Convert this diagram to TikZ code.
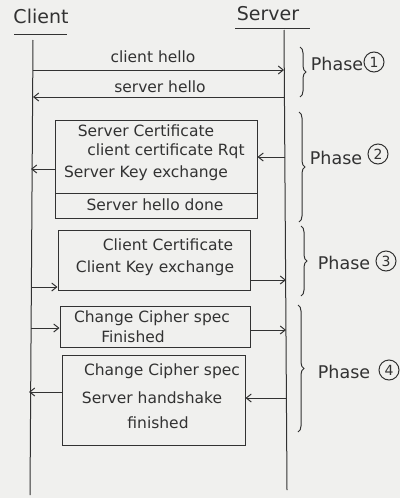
\documentclass[tikz,border=0pt]{standalone}
\usepackage{fontspec}
\setmainfont{DejaVu Sans}
\usetikzlibrary{arrows.meta,decorations.pathreplacing}
\definecolor{bgc}{RGB}{240,240,238}
\definecolor{ink}{RGB}{50,50,50}
\tikzset{
  ink/.style={draw=ink, line width=1pt},
  msg/.style={ink, -{Straight Barb[length=5pt,width=8pt]}},
  lbl/.style={text=ink, font=\fontsize{15.5}{17}\selectfont, inner sep=1pt},
  box/.style={ink, inner sep=0pt},
  brc/.style={ink, decorate, decoration={brace, amplitude=6pt}},
  phase/.style={text=ink, font=\fontsize{17.5}{20}\selectfont, inner sep=1pt},
  num/.style={ink, circle, minimum size=20pt, inner sep=0pt, text=ink, font=\fontsize{14}{16}\selectfont}
}
\begin{document}
\begin{tikzpicture}[x=1pt,y=-1pt]
\fill[bgc] (0,0) rectangle (400,498);
\useasboundingbox (0,0) rectangle (400,498);

% headers
\node[lbl, font=\fontsize{19}{21}\selectfont] (cl) at (41,16) {Client};
\node[lbl, font=\fontsize{19}{21}\selectfont] (sv) at (268,14) {Server};
\draw[ink] (14,34) -- (67,34);
\draw[ink] (235,28) -- (310,28);
\coordinate (clt) at (33,40);
\coordinate (clb) at (30,495);
\coordinate (svt) at (284,30);
\coordinate (svb) at (287,490);
\draw[ink] (clt) -- (clb);
\draw[ink] (svt) -- (svb);

% Phase 1
\node[lbl] (m1) at (153,57) {client hello};
\coordinate (c70) at (33,70);
\coordinate (s70) at (284,70);
\draw[msg] (c70) -- (s70);
\node[lbl] (m2) at (160,87) {server hello};
\coordinate (s97) at (285,97);
\coordinate (c97) at (33,97);
\draw[msg] (s97) -- (c97);
\coordinate (b1t) at (300,47);
\coordinate (b1b) at (300,97);
\draw[brc] (b1t) -- (b1b);
\node[phase] (ph1) at (337,64) {Phase};
\node[num] (n1) at (374,62) {1};

% Phase 2
\node[box, draw, minimum width=202pt, minimum height=73pt] (p2a) at (156,156.5) {};
\node[box, draw, minimum width=202pt, minimum height=25pt] (p2b) at (156,205.5) {};
\node[lbl] (t21) at (146,131) {Server Certificate};
\node[lbl] (t22) at (166,151) {client certificate Rqt};
\node[lbl] (t23) at (146,173) {Server Key exchange};
\node[lbl] (t24) at (155,205) {Server hello done};
\coordinate (s157) at (285,157);
\draw[msg] (s157) -- (p2a.east |- s157);
\coordinate (c169) at (31,169);
\draw[msg] (p2a.west |- c169) -- (c169);
\coordinate (b2t) at (299,112);
\coordinate (b2b) at (299,222);
\draw[brc] (b2t) -- (b2b);
\node[phase] (ph2) at (336,158) {Phase};
\node[num] (n2) at (378,154) {2};

% Phase 3
\node[box, draw, minimum width=192pt, minimum height=60pt] (p3) at (154,260) {};
\node[lbl] (t31) at (168,245) {Client Certificate};
\node[lbl] (t32) at (155,268) {Client Key exchange};
\coordinate (c287) at (31,287);
\draw[msg] (c287) -- (p3.west |- c287);
\coordinate (s280) at (286,280);
\draw[msg] (p3.east |- s280) -- (s280);
\coordinate (b3t) at (301,226);
\coordinate (b3b) at (301,296);
\draw[brc] (b3t) -- (b3b);
\node[phase] (ph3) at (344,263) {Phase};
\node[num] (n3) at (386,261) {3};

% Phase 4
\node[box, draw, minimum width=190pt, minimum height=41pt] (p4a) at (155,326.5) {};
\node[lbl] (t41) at (152,318) {Change Cipher spec};
\node[lbl] (t42) at (133,337) {Finished};
\coordinate (c328) at (31,328);
\draw[msg] (c328) -- (p4a.west |- c328);
\coordinate (s330) at (286,330);
\draw[msg] (p4a.east |- s330) -- (s330);
\node[box, draw, minimum width=183pt, minimum height=90pt] (p4b) at (153.5,400) {};
\node[lbl] (t43) at (162,371) {Change Cipher spec};
\node[lbl] (t44) at (152,398) {Server handshake};
\node[lbl] (t45) at (158,423) {finished};
\coordinate (s398) at (286,398);
\draw[msg] (s398) -- (p4b.east |- s398);
\coordinate (c392) at (29,392);
\draw[msg] (p4b.west |- c392) -- (c392);
\coordinate (b4t) at (298,305);
\coordinate (b4b) at (298,432);
\draw[brc] (b4t) -- (b4b);
\node[phase] (ph4) at (344,372) {Phase};
\node[num] (n4) at (389,370) {4};
\end{tikzpicture}
\end{document}
